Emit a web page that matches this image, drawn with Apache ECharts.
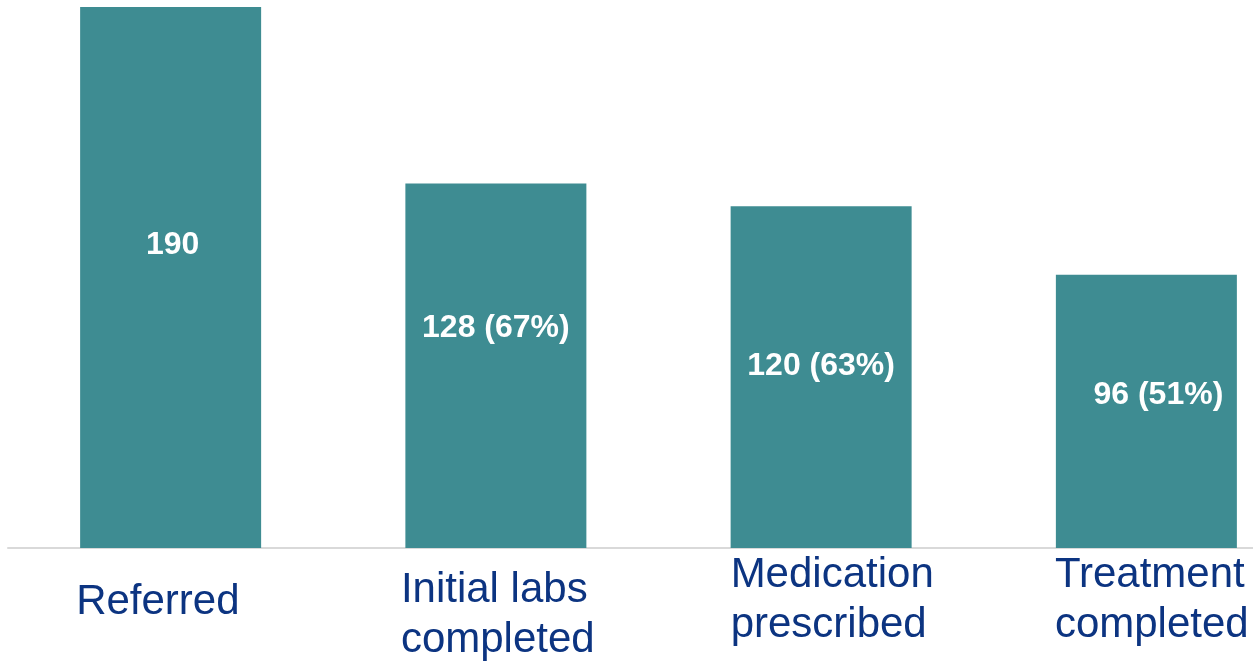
<!DOCTYPE html>
<html>
<head>
<meta charset="utf-8">
<script src="https://cdn.jsdelivr.net/npm/echarts@6/dist/echarts.min.js"></script>
<style>
html,body{margin:0;padding:0;background:#fff;}
#chart{width:1253px;height:661px;}
</style>
</head>
<body>
<div id="chart"></div>
<script>
var categories = ['Referred', 'Initial labs\ncompleted', 'Medication\nprescribed', 'Treatment\ncompleted'];
var values = [190, 128, 120, 96];
var labelTexts = ['190', '128 (67%)', '120 (63%)', '96 (51%)'];

var labelOffsets = [[2, -32], [0, -38], [0, -11], [12, -16]];
var catWidths = [189, 190, 181, 183];
var catPadTop = [27, 15, 0, 0];
var navy = '#0c3481';

var rich = {};
for (var i = 0; i < categories.length; i++) {
  rich['a' + i] = {width: catWidths[i], align: 'left', lineHeight: 50, fontSize: 42, color: navy, fontFamily: 'Liberation Sans', overflow: 'none'};
}

var chart = echarts.init(document.getElementById('chart'), null, {renderer: 'canvas'});
chart.setOption({
  animation: false,
  grid: {left: 8, width: 1301, top: 7, bottom: 113, containLabel: false, outerBoundsMode: 'none'},
  xAxis: {
    type: 'category',
    data: categories.map(function (c, i) {
      return {value: c, textStyle: {padding: [catPadTop[i], 0, 0, 0]}};
    }),
    axisTick: {show: false},
    axisLine: {show: true, lineStyle: {color: '#d9d9d9', width: 2}},
    axisLabel: {
      interval: 0,
      margin: 2,
      align: 'center',
      verticalAlign: 'top',
      hideOverlap: false,
      formatter: function (v, idx) {
        return v.split('\n').map(function (l) { return '{a' + idx + '|' + l + '}'; }).join('\n');
      },
      rich: rich
    }
  },
  yAxis: {type: 'value', min: 0, max: 190, show: false, splitLine: {show: false}},
  series: [{
    type: 'bar',
    barWidth: 181,
    data: values.map(function (v, i) {
      return {
        value: v,
        label: {
          show: true,
          position: 'inside',
          offset: labelOffsets[i],
          formatter: labelTexts[i],
          color: '#ffffff',
          fontWeight: 'bold',
          fontSize: 32,
          fontFamily: 'Liberation Sans'
        }
      };
    }),
    itemStyle: {color: '#3e8c92'}
  }]
});
</script>
</body>
</html>
